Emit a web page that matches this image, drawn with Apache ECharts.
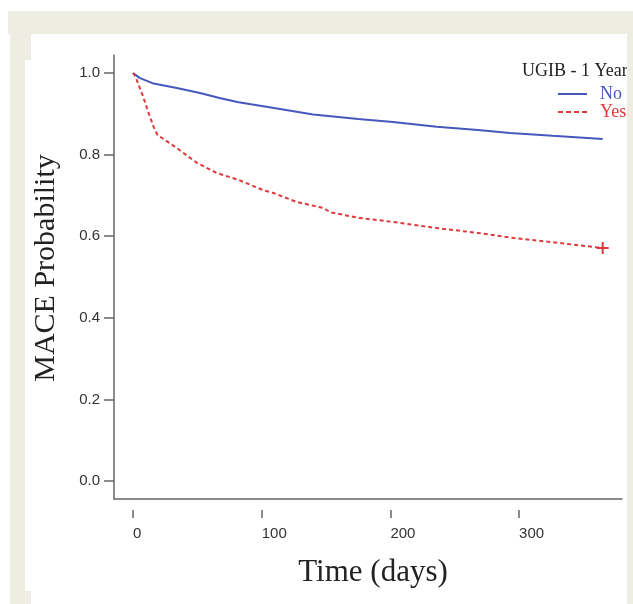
<!DOCTYPE html>
<html><head><meta charset="utf-8">
<script src="https://cdn.jsdelivr.net/npm/echarts@6/dist/echarts.min.js"></script>
<style>html,body{margin:0;padding:0;background:#fff}#c{width:633px;height:604px}</style>
</head><body><div id="c"></div>
<script>
const yTicks = [0, 0.2, 0.4, 0.6, 0.8, 1.0];
const xTicks = [0, 100, 200, 300];
const noDays = [0, 5, 15, 34, 52, 68, 82, 106, 140, 175, 202, 236, 268, 293, 326, 365];
const noProb = [1.0, 0.988, 0.975, 0.963, 0.951, 0.938, 0.928, 0.916, 0.898, 0.887, 0.880, 0.868, 0.860, 0.853, 0.846, 0.838];
const yesDays = [0, 2, 8, 12, 16, 19, 34, 50, 65, 82, 101, 109, 127, 148, 153, 175, 202, 236, 268, 295, 332, 365];
const yesProb = [1.0, 0.99, 0.941, 0.902, 0.868, 0.848, 0.816, 0.779, 0.755, 0.738, 0.713, 0.706, 0.684, 0.669, 0.659, 0.645, 0.635, 0.620, 0.608, 0.596, 0.583, 0.571];
const legendTitle = 'UGIB - 1 Year';
const groupNames = ['No', 'Yes'];

const BLUE = '#4658bd', RED = '#e0393b', AX = '#666', BEIGE = '#eeede2';
const plus = 'path://M5,0H7V5H12V7H7V12H5V7H0V5H5Z';
const solidIcon = 'path://M0,0H29V2H0Z';
const dashIcon = 'path://M0,0H5V2H0Z M8,0H13V2H8Z M16,0H21V2H16Z M24,0H29V2H24Z';

const noData = noDays.map((d, i) => [d, noProb[i]]);
const yesData = yesDays.map((d, i) => {
  if (i === yesDays.length - 1) {
    return {value: [d, yesProb[i]], symbol: plus, symbolSize: 12, itemStyle: {color: RED}};
  }
  return {value: [d, yesProb[i]], symbol: 'none'};
});

const chart = echarts.init(document.getElementById('c'), null, {renderer: 'canvas'});
chart.setOption({
  backgroundColor: '#ffffff',
  animation: false,
  title: {
    text: legendTitle, left: 522, top: 62, padding: 0,
    textStyle: {fontFamily: 'Liberation Serif', fontSize: 18, fontWeight: 'normal', color: '#222'}
  },
  legend: {
    orient: 'vertical', left: 558, top: 85, padding: 0,
    itemWidth: 29, itemHeight: 2, itemGap: 0, symbolKeepAspect: false,
    data: [
      {name: groupNames[0], icon: solidIcon, textStyle: {color: BLUE}},
      {name: groupNames[1], icon: dashIcon, textStyle: {color: RED}}
    ],
    textStyle: {fontFamily: 'Liberation Serif', fontSize: 18, lineHeight: 17, padding: [0, 0, 0, 8]}
  },
  grid: {left: 114, right: 11, top: 55, bottom: 105, containLabel: false},
  xAxis: [{
    type: 'value', min: -14.8, max: 380,
    axisLine: {show: true, onZero: false, lineStyle: {color: AX, width: 1.5}},
    axisTick: {show: false}, axisLabel: {show: false}, splitLine: {show: false},
    name: 'Time (days)', nameLocation: 'middle', nameGap: 58,
    nameTextStyle: {fontFamily: 'Liberation Serif', fontSize: 31, color: '#222', padding: [0, 0, 0, 10]}
  }, {
    type: 'value', min: -14.8, max: 380, position: 'bottom', offset: 11,
    axisLine: {show: false, onZero: false},
    axisTick: {show: true, length: 8, customValues: xTicks, lineStyle: {color: AX, width: 1.5}},
    axisLabel: {customValues: xTicks, margin: 16, align: 'left', fontFamily: 'Liberation Sans', fontSize: 15, color: '#333'},
    splitLine: {show: false}
  }],
  yAxis: {
    type: 'value', min: -0.044, max: 1.044,
    axisLine: {show: true, onZero: false, lineStyle: {color: AX, width: 1.5}},
    axisTick: {show: true, length: 10, customValues: yTicks, lineStyle: {color: AX, width: 1.5}},
    axisLabel: {customValues: yTicks, margin: 14, formatter: v => Number(v).toFixed(1), fontFamily: 'Liberation Sans', fontSize: 15, color: '#333'},
    splitLine: {show: false},
    name: 'MACE Probability', nameLocation: 'middle', nameGap: 53, nameRotate: 90,
    nameTextStyle: {fontFamily: 'Liberation Serif', fontSize: 30, color: '#222', padding: [0, 0, 0, 18]}
  },
  series: [{
    name: groupNames[0], type: 'line', xAxisIndex: 0, data: noData,
    symbol: 'none', lineStyle: {color: BLUE, width: 2}, itemStyle: {color: BLUE}
  }, {
    name: groupNames[1], type: 'line', xAxisIndex: 0, data: yesData,
    symbol: 'none', showSymbol: true, lineStyle: {color: RED, width: 2, type: [4, 3]}, itemStyle: {color: RED}
  }],
  graphic: [
    {type: 'rect', z: 100, shape: {x: 8, y: 11, width: 625, height: 23}, style: {fill: BEIGE}},
    {type: 'rect', z: 100, shape: {x: 10, y: 11, width: 15, height: 593}, style: {fill: BEIGE}},
    {type: 'rect', z: 100, shape: {x: 10, y: 11, width: 21, height: 49}, style: {fill: BEIGE}},
    {type: 'rect', z: 100, shape: {x: 10, y: 591, width: 21, height: 13}, style: {fill: BEIGE}},
    {type: 'rect', z: 100, shape: {x: 627, y: 11, width: 6, height: 593}, style: {fill: BEIGE}}
  ]
});
</script></body></html>
